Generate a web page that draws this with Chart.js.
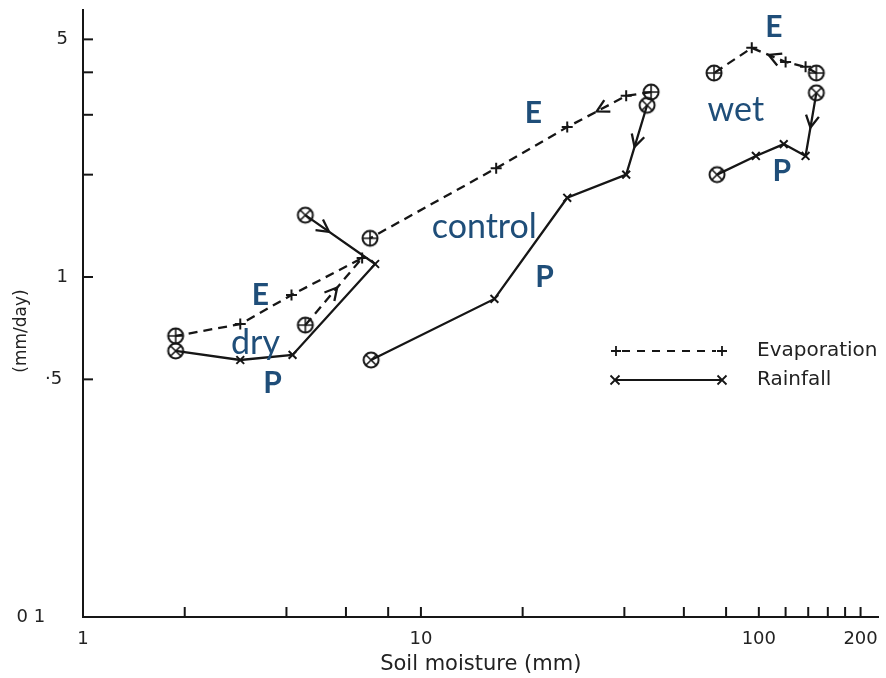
<!DOCTYPE html>
<html>
<head>
<meta charset="utf-8">
<script src="https://cdn.jsdelivr.net/npm/chart.js@4.4.1/dist/chart.umd.min.js"></script>
<style>
  html, body { margin: 0; padding: 0; background: #fff; }
  #wrap { width: 886px; height: 678px; }
</style>
</head>
<body>
<div id="wrap"><canvas id="soilChart"></canvas></div>
<script>
// values, each loop listed from its start circle to its end circle
// soil moisture (mm) on x, flux (mm/day) on y
const dryEvapX  = [4.55, 6.70, 4.14, 2.92, 1.88];
const dryEvapY  = [0.722, 1.137, 0.885, 0.727, 0.671];
const dryRainX  = [4.55, 7.32, 4.17, 2.92, 1.88];
const dryRainY  = [1.52, 1.092, 0.590, 0.570, 0.606];

const ctrlEvapX = [48.0, 40.5, 27.1, 16.7, 7.07];
const ctrlEvapY = [3.50, 3.41, 2.76, 2.09, 1.30];
const ctrlRainX = [46.7, 40.5, 27.1, 16.5, 7.12];
const ctrlRainY = [3.20, 2.00, 1.71, 0.862, 0.570];

const wetEvapX  = [148, 137.5, 120, 95.3, 73.7];
const wetEvapY  = [3.98, 4.15, 4.29, 4.72, 3.98];
const wetRainX  = [148, 137.5, 118.5, 98, 75.2];
const wetRainY  = [3.48, 2.27, 2.46, 2.27, 2.00];

// axis ticks and labels
const xTickValues = [1, 2, 4, 6, 8, 10, 20, 40, 60, 80, 100, 120, 140, 160, 180, 200];
const xTickLabels = { 1: "1", 10: "10", 100: "100", 200: "200" };
const yTickValues = [0.1, 0.5, 1, 2, 3, 4, 5];
const yTickLabels = { 0.1: "0 1    ", 0.5: "·5 ", 1: "1", 5: "5" };

const ink = "#161616";
const blue = "#1f4e79";

// circled start / end markers
const circled = (kind) => {
    const c = document.createElement("canvas");
    c.width = 20; c.height = 20;
    const g = c.getContext("2d");
    g.strokeStyle = ink;
    g.lineWidth = 2;
    g.beginPath(); g.arc(10, 10, 7.5, 0, Math.PI * 2); g.stroke();
    g.lineWidth = 1.6;
    g.beginPath();
    if (kind === "plus") {
        g.moveTo(10, 2.5); g.lineTo(10, 17.5); g.moveTo(2.5, 10); g.lineTo(17.5, 10);
    } else {
        const d = 5.3;
        g.moveTo(10 - d, 10 - d); g.lineTo(10 + d, 10 + d);
        g.moveTo(10 + d, 10 - d); g.lineTo(10 - d, 10 + d);
    }
    g.stroke();
    return c;
};
const circlePlus = circled("plus");
const circleCross = circled("cross");

const makeSeries = (label, xs, ys, evap) => ({
    label,
    data: xs.map((x, i) => ({ x, y: ys[i] })),
    showLine: true,
    borderColor: ink,
    borderWidth: 2.3,
    borderDash: evap ? [9, 6] : [],
    tension: 0,
    pointStyle: xs.map((_, i) => (i === 0 || i === xs.length - 1)
        ? (evap ? circlePlus : circleCross)
        : (evap ? "cross" : "crossRot")),
    pointRadius: 5.5,
    pointBorderWidth: 2,
    pointBorderColor: ink,
    pointBackgroundColor: ink,
});

// arrowheads: dataset index, segment, position along the segment
const arrowMarks = [
    { ds: 0, seg: 0, t: 0.56 },
    { ds: 1, seg: 0, t: 0.34 },
    { ds: 2, seg: 1, t: 0.5 },
    { ds: 3, seg: 0, t: 0.6 },
    { ds: 4, seg: 2, t: 0.5 },
    { ds: 5, seg: 0, t: 0.55 },
];

// blue annotations in data units
const notes = [
    { text: "E", x: 21.5, y: 3.04, bold: true },
    { text: "control", x: 15.4, y: 1.40, bold: false },
    { text: "P", x: 23.2, y: 1.0, bold: true },
    { text: "E", x: 3.35, y: 0.885, bold: true },
    { text: "dry", x: 3.24, y: 0.639, bold: false },
    { text: "P", x: 3.64, y: 0.488, bold: true },
    { text: "wet", x: 85.5, y: 3.10, bold: false },
    { text: "E", x: 110.7, y: 5.44, bold: true },
    { text: "P", x: 117, y: 2.04, bold: true },
];

const drawCross = (ctx, x, y, r, rot) => {
    ctx.beginPath();
    if (rot) {
        ctx.moveTo(x - r, y - r); ctx.lineTo(x + r, y + r);
        ctx.moveTo(x + r, y - r); ctx.lineTo(x - r, y + r);
    } else {
        ctx.moveTo(x - r, y); ctx.lineTo(x + r, y);
        ctx.moveTo(x, y - r); ctx.lineTo(x, y + r);
    }
    ctx.stroke();
};

const extrasPlugin = {
    id: "extras",
    afterDatasetsDraw(chart) {
        const { ctx, chartArea, scales } = chart;
        ctx.save();
        ctx.strokeStyle = ink;
        ctx.lineWidth = 2;

        // inward ticks
        xTickValues.slice(1).forEach(v => {
            const px = scales.x.getPixelForValue(v);
            ctx.beginPath(); ctx.moveTo(px, chartArea.bottom); ctx.lineTo(px, chartArea.bottom - 10); ctx.stroke();
        });
        yTickValues.slice(1).forEach(v => {
            const py = scales.y.getPixelForValue(v);
            ctx.beginPath(); ctx.moveTo(chartArea.left, py); ctx.lineTo(chartArea.left + 10, py); ctx.stroke();
        });

        // arrowheads
        ctx.lineWidth = 2.3;
        arrowMarks.forEach(a => {
            const pts = chart.getDatasetMeta(a.ds).data;
            const p0 = pts[a.seg], p1 = pts[a.seg + 1];
            const x = p0.x + (p1.x - p0.x) * a.t;
            const y = p0.y + (p1.y - p0.y) * a.t;
            ctx.save();
            ctx.translate(x, y);
            ctx.rotate(Math.atan2(p1.y - p0.y, p1.x - p0.x));
            ctx.setLineDash([]);
            ctx.beginPath();
            ctx.moveTo(-12, -6.5); ctx.lineTo(0, 0); ctx.lineTo(-12, 6.5);
            ctx.stroke();
            ctx.restore();
        });

        // legend
        ctx.lineWidth = 1.8;
        ctx.setLineDash([8, 7]);
        ctx.beginPath(); ctx.moveTo(622, 351); ctx.lineTo(716, 351); ctx.stroke();
        ctx.setLineDash([]);
        drawCross(ctx, 616, 351, 5, false);
        drawCross(ctx, 722, 351, 5, false);
        ctx.beginPath(); ctx.moveTo(615, 380); ctx.lineTo(722, 380); ctx.stroke();
        drawCross(ctx, 615, 380, 4.5, true);
        drawCross(ctx, 722, 380, 4.5, true);
        ctx.fillStyle = "#222";
        ctx.font = "20px 'DejaVu Sans'";
        ctx.textAlign = "left";
        ctx.textBaseline = "middle";
        ctx.fillText("Evaporation", 757, 351);
        ctx.fillText("Rainfall", 757, 380);

        // y axis title, sits a little below the middle of the axis in the original
        ctx.save();
        ctx.translate(22, 331);
        ctx.rotate(-Math.PI / 2);
        ctx.textAlign = "center";
        ctx.font = "17px 'DejaVu Sans'";
        ctx.fillText("(mm/day)", 0, 0);
        ctx.restore();

        // annotations
        ctx.fillStyle = blue;
        ctx.textAlign = "center";
        notes.forEach(n => {
            ctx.font = n.bold ? "bold 30px Lato" : "34px Lato";
            ctx.fillText(n.text, scales.x.getPixelForValue(n.x), scales.y.getPixelForValue(n.y));
        });
        ctx.restore();
    }
};

new Chart(document.getElementById("soilChart"), {
    type: "scatter",
    data: {
        datasets: [
            makeSeries("dry E", dryEvapX, dryEvapY, true),
            makeSeries("dry P", dryRainX, dryRainY, false),
            makeSeries("control E", ctrlEvapX, ctrlEvapY, true),
            makeSeries("control P", ctrlRainX, ctrlRainY, false),
            makeSeries("wet E", wetEvapX, wetEvapY, true),
            makeSeries("wet P", wetRainX, wetRainY, false),
        ],
    },
    options: {
        responsive: true,
        maintainAspectRatio: false,
        animation: false,
        layout: { padding: { top: 10, right: 0, bottom: 0, left: 0 } },
        plugins: {
            legend: { display: false },
            tooltip: { enabled: false },
        },
        scales: {
            x: {
                type: "logarithmic",
                min: 1,
                max: 226,
                afterBuildTicks: (s) => { s.ticks = xTickValues.map(v => ({ value: v })); },
                afterFit: (s) => { s.height = 61; s.paddingLeft = 0; s.paddingRight = 0; },
                grid: { display: false },
                border: { display: true, color: ink, width: 2 },
                ticks: {
                    autoSkip: false,
                    maxRotation: 0,
                    padding: 4,
                    color: "#222",
                    font: { family: "'DejaVu Sans'", size: 18 },
                    callback: (v) => xTickLabels[v] || "",
                },
                title: {
                    display: true,
                    text: "Soil moisture (mm)",
                    color: "#222",
                    font: { family: "'DejaVu Sans'", size: 21 },
                    padding: { top: 0, bottom: 1 },
                },
            },
            y: {
                type: "logarithmic",
                min: 0.1,
                max: 6.1,
                afterBuildTicks: (s) => { s.ticks = yTickValues.map(v => ({ value: v })); },
                afterFit: (s) => { s.width = 83; s.paddingTop = 0; s.paddingBottom = 0; },
                grid: { display: false },
                border: { display: true, color: ink, width: 2 },
                ticks: {
                    autoSkip: false,
                    padding: 7,
                    color: "#222",
                    font: { family: "'DejaVu Sans'", size: 18 },
                    callback: (v) => yTickLabels[v] || "",
                },
            },
        },
    },
    plugins: [extrasPlugin],
});
</script>
</body>
</html>
